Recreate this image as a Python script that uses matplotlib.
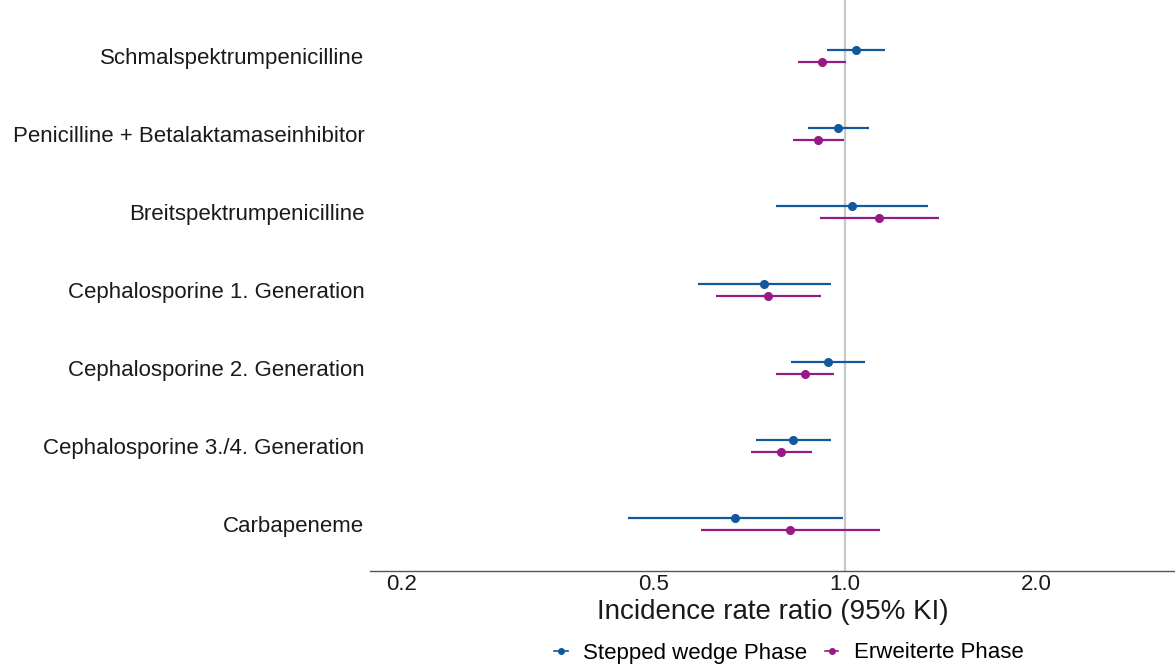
import matplotlib.pyplot as plt
from matplotlib.lines import Line2D
import numpy as np

plt.rcParams['font.family'] = ['Liberation Sans', 'DejaVu Sans']

wirkstoffe = [
    'Schmalspektrumpenicilline',
    'Penicilline + Betalaktamaseinhibitor',
    'Breitspektrumpenicilline',
    'Cephalosporine 1. Generation',
    'Cephalosporine 2. Generation',
    'Cephalosporine 3./4. Generation',
    'Carbapeneme',
]

# Stepped wedge Phase: IRR mit 95%-KI
sw_irr = [1.04, 0.976, 1.024, 0.746, 0.940, 0.827, 0.672]
sw_lo = [0.936, 0.875, 0.779, 0.586, 0.821, 0.723, 0.456]
sw_hi = [1.156, 1.090, 1.350, 0.952, 1.075, 0.950, 0.994]

# Erweiterte Phase: IRR mit 95%-KI
ew_irr = [0.921, 0.908, 1.132, 0.757, 0.865, 0.793, 0.820]
ew_lo = [0.844, 0.829, 0.913, 0.626, 0.779, 0.710, 0.594]
ew_hi = [1.004, 0.995, 1.406, 0.917, 0.960, 0.887, 1.135]

blau = '#11599c'
lila = '#951a86'

fig = plt.figure(figsize=(11.75, 6.66), dpi=100)
ax = fig.add_axes([370 / 1175, 1 - 571 / 666, 805 / 1175, 571 / 666])

y = np.arange(len(wirkstoffe))
versatz = 0.077

ax.axvline(1.0, color='#c8c8c8', lw=1.6, zorder=1)

for irr, lo, hi, farbe, dy in [(sw_irr, sw_lo, sw_hi, blau, -versatz),
                               (ew_irr, ew_lo, ew_hi, lila, versatz)]:
    ax.hlines(y + dy, lo, hi, color=farbe, lw=1.6, zorder=2)
    ax.plot(irr, y + dy, 'o', color=farbe, ms=5.5, zorder=3)

ax.set_xscale('log')
ax.set_xlim(0.1786, 3.31)
ax.set_ylim(len(wirkstoffe) - 1 + 0.6, -0.72)
ax.set_xticks([0.2, 0.5, 1.0, 2.0])
ax.set_xticklabels(['0.2', '0.5', '1.0', '2.0'])
ax.minorticks_off()
ax.set_yticks(y)
ax.set_yticklabels(wirkstoffe)
ax.tick_params(axis='y', length=0, labelsize=16, pad=4, labelcolor='#1a1a1a')
ax.tick_params(axis='x', length=0, labelsize=16, pad=2, labelcolor='#1a1a1a')

for s in ['top', 'right', 'left']:
    ax.spines[s].set_visible(False)
ax.spines['bottom'].set_color('#555555')
ax.spines['bottom'].set_linewidth(1.0)

ax.set_xlabel('Incidence rate ratio (95% KI)', fontsize=20, color='#1a1a1a', labelpad=3)

griffe = [Line2D([0], [0], color=blau, marker='o', ms=4, lw=1.2),
          Line2D([0], [0], color=lila, marker='o', ms=4, lw=1.2)]
fig.legend(griffe, ['Stepped wedge Phase', 'Erweiterte Phase'],
           loc='center', bbox_to_anchor=(789 / 1175, 1 - 653 / 666),
           ncol=2, frameon=False, fontsize=16, handlelength=0.6,
           handletextpad=0.7, columnspacing=0.8)

fig.savefig('out.png', dpi=100)
